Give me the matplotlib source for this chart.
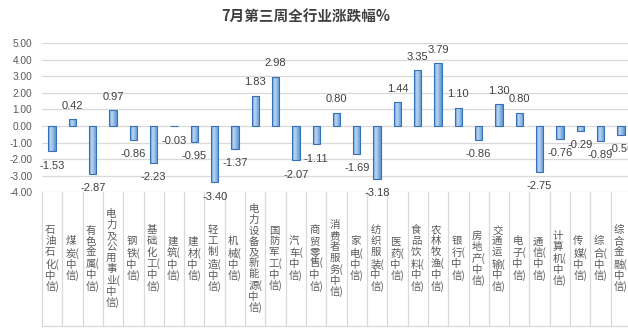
#!/usr/bin/env python3
"""Weekly industry return bar chart (CITIC level-1 industries)."""

import matplotlib
matplotlib.use("Agg")

import numpy as np
import matplotlib.pyplot as plt
from matplotlib.colors import LinearSegmentedColormap
from matplotlib.patches import Rectangle
from matplotlib.transforms import blended_transform_factory

INDUSTRIES = [
    "石油石化", "煤炭", "有色金属", "电力及公用事业", "钢铁", "基础化工",
    "建筑", "建材", "轻工制造", "机械", "电力设备及新能源", "国防军工",
    "汽车", "商贸零售", "消费者服务", "家电", "纺织服装", "医药",
    "食品饮料", "农林牧渔", "银行", "房地产", "交通运输", "电子",
    "通信", "计算机", "传媒", "综合", "综合金融",
]
RETURNS = [
    -1.53, 0.42, -2.87, 0.97, -0.86, -2.23,
    -0.03, -0.95, -3.40, -1.37, 1.83, 2.98,
    -2.07, -1.11, 0.80, -1.69, -3.18, 1.44,
    3.35, 3.79, 1.10, -0.86, 1.30, 0.80,
    -2.75, -0.76, -0.29, -0.89, -0.56,
]
Y_TICKS = [-4, -3, -2, -1, 0, 1, 2, 3, 4, 5]
TITLE = "7月第三周全行业涨跌幅%"
SERIES_NAME = "系列1"

CJK = ["Noto Sans CJK SC", "DejaVu Sans"]
NUM = ["Liberation Sans", "DejaVu Sans"]
TEXT_GRAY = "#595959"
GRID_GRAY = "#d9d9d9"

W, H = 628, 328


def stacked_label(name):
    # one character per line, brackets stay glued to their neighbour
    chars = list(name)
    lines = chars[:-1] + [chars[-1] + "(", "中", "信)"]
    return "\n".join(lines)


def gradient_bar(ax, x, height, width, cmap):
    y0 = min(0.0, height)
    rect = Rectangle((x - width / 2, y0), width, abs(height),
                     facecolor="none", edgecolor="#3471b8", linewidth=0.8, zorder=3)
    ax.add_patch(rect)
    grad = np.linspace(0, 1, 64).reshape(1, -1)
    im = ax.imshow(grad, cmap=cmap, aspect="auto", zorder=2,
                   extent=(x - width / 2, x + width / 2, y0, y0 + abs(height)))
    im.set_clip_path(rect)


def main():
    fig = plt.figure(figsize=(W / 100, H / 100), dpi=100)
    left, right = 42, 631
    top, bottom = 43, 192.4
    ax = fig.add_axes([left / W, 1 - bottom / H, (right - left) / W, (bottom - top) / H])

    n = len(INDUSTRIES)
    x = np.arange(n)
    cmap = LinearSegmentedColormap.from_list(
        "barfill", [(0, "#5a93d2"), (0.35, "#bcd6f0"), (1, "#5c95d3")])

    for xi, v in zip(x, RETURNS):
        gradient_bar(ax, xi, v, 0.36, cmap)
        off = 9.6 if v >= 0 else -10.2
        ax.annotate(f"{v:.2f}", (xi, v), xytext=(0, off), textcoords="offset points",
                    ha="center", va="center", fontsize=8, color="#404040",
                    family=NUM, zorder=4)

    ax.set_xlim(-0.5, n - 0.5)
    ax.set_ylim(-4, 5)
    ax.set_yticks(Y_TICKS)
    ax.set_yticklabels([f"{t:.2f}" for t in Y_TICKS], family=NUM, fontsize=7.3, color=TEXT_GRAY)
    ax.tick_params(axis="y", length=0, pad=7)
    ax.set_xticks([])
    ax.grid(axis="y", color=GRID_GRAY, linewidth=0.9)
    ax.set_axisbelow(True)
    for s in ax.spines.values():
        s.set_visible(False)

    # category boxes under the plot area
    trans = blended_transform_factory(ax.transData, ax.transAxes)
    box_bottom = -(326 - bottom) / (bottom - top)
    for b in np.arange(-0.5, n, 1.0):
        ax.plot([b, b], [0, box_bottom], transform=trans, color=GRID_GRAY,
                linewidth=0.9, clip_on=False)
    ax.plot([-0.5, n - 0.5], [box_bottom, box_bottom], transform=trans,
            color=GRID_GRAY, linewidth=0.9, clip_on=False)

    label_y = -(259 - bottom) / (bottom - top)
    for xi, name in zip(x, INDUSTRIES):
        ax.text(xi, label_y, stacked_label(name), transform=trans, ha="center",
                va="center", multialignment="left", fontsize=7.5, linespacing=1.12,
                color=TEXT_GRAY, family=CJK)

    fig.text(0.487, 1 - 17 / H, TITLE, ha="center", va="center", fontsize=10.5,
             fontweight="bold", color="#404040", family=CJK)

    # legend sits at the very bottom edge, mostly outside the canvas
    handle = Rectangle((0, 0), 1, 1, facecolor="#7eaee0", edgecolor="#3471b8", linewidth=0.8)
    fig.legend([handle], [SERIES_NAME], loc="upper center", bbox_to_anchor=(0.49, 4 / H),
               frameon=False, prop={"family": CJK, "size": 7.5}, labelcolor=TEXT_GRAY,
               handlelength=0.8, handleheight=0.8, borderpad=0.1)

    fig.savefig("out.png", dpi=100, facecolor="white")
    plt.close(fig)


if __name__ == "__main__":
    main()
